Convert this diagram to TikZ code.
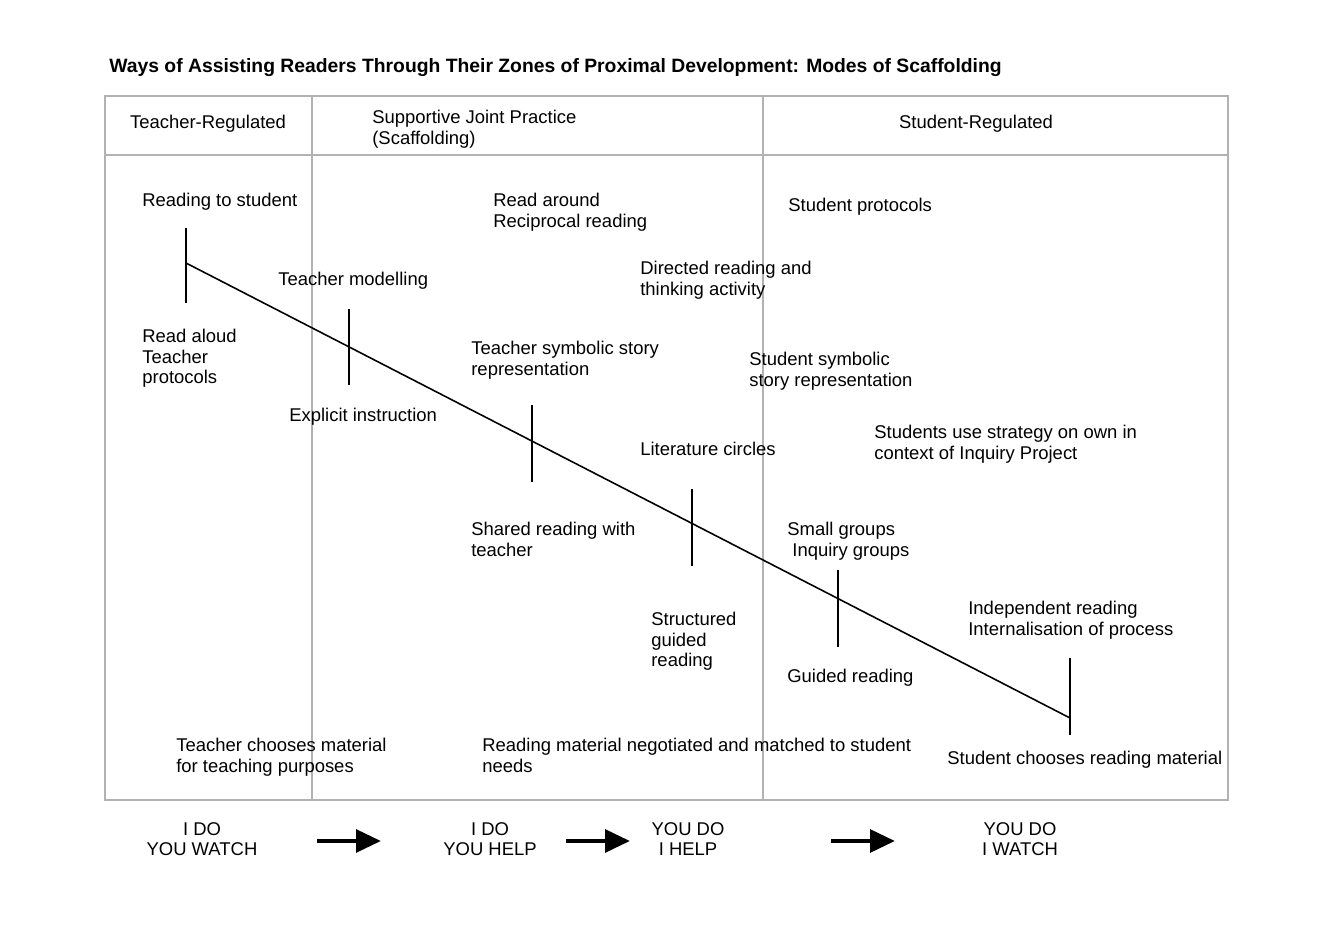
\documentclass[tikz,border=0pt]{standalone}
\usepackage{fontspec}
\setmainfont{Liberation Sans}
\usetikzlibrary{arrows.meta}

\tikzset{
  lbl/.style={anchor=north west, inner sep=0, align=left,
    font=\fontsize{10.5}{11.6}\selectfont},
  ctr/.style={inner sep=0, align=center,
    font=\fontsize{10.5}{11.6}\selectfont},
  frame/.style={draw=black!30, line width=0.6pt},
  tick/.style={line width=0.9pt},
  bigarrow/.style={-{Triangle[length=0.5cm,width=0.45cm]}, line width=0.09cm}
}

\begin{document}
\begin{tikzpicture}[x=0.02cm, y=-0.02cm]
  \useasboundingbox (0,0) rectangle (1323,935);

  \node[anchor=west, inner sep=0, font=\fontsize{11}{13}\selectfont\bfseries]
    (title) at (109,68) {Ways of Assisting Readers Through Their Zones of Proximal Development: Modes of Scaffolding};

  % frame and columns
  \draw[frame] (105,96) rectangle (1228,800);
  \draw[frame] (105,155) -- (1228,155);
  \draw[frame] (312,96) -- (312,800);
  \draw[frame] (763,96) -- (763,800);

  \node[ctr] (h1) at (208,124) {Teacher-Regulated};
  \node[lbl] (h2) at (372,110) {Supportive Joint Practice\\(Scaffolding)};
  \node[ctr] (h3) at (976,124) {Student-Regulated};

  % main line with ticks
  \coordinate (start) at (186,263);
  \coordinate (stop)  at (1070,718);
  \draw[line width=0.9pt] (start) -- (stop);
  \foreach \x/\a/\b in {186/228/303, 349/309/385, 532/405/482,
                        692/489/566, 838/570/647, 1070/658/735}{
    \coordinate (t\x a) at (\x,\a);
    \coordinate (t\x b) at (\x,\b);
    \draw[tick] (t\x a) -- (t\x b);
  }

  % labels
  \node[lbl] (readst)   at (142,193) {Reading to student};
  \node[lbl] (readaloud) at (142,329) {Read aloud\\Teacher\\protocols};
  \node[lbl] (model)    at (278,272) {Teacher modelling};
  \node[lbl] (explicit) at (289,408) {Explicit instruction};
  \node[lbl] (around)   at (493,193) {Read around\\Reciprocal reading};
  \node[lbl] (symb)     at (471,341) {Teacher symbolic story\\representation};
  \node[lbl] (shared)   at (471,522) {Shared reading with\\teacher};
  \node[lbl] (directed) at (640,261) {Directed reading and\\thinking activity};
  \node[lbl] (litcirc)  at (640,442) {Literature circles};
  \node[lbl] (struct)   at (651,612) {Structured\\guided\\reading};
  \node[lbl] (protocols) at (788,198) {Student protocols};
  \node[lbl] (stsymb)   at (749,352) {Student symbolic\\story representation};
  \node[lbl] (strategy) at (874,425) {Students use strategy on own in\\context of Inquiry Project};
  \node[lbl] (small)    at (787,522) {Small groups\\\ Inquiry groups};
  \node[lbl] (guided)   at (787,669) {Guided reading};
  \node[lbl] (indep)    at (968,601) {Independent reading\\Internalisation of process};

  \node[lbl] (tchoose)  at (176,738) {Teacher chooses material\\for teaching purposes};
  \node[lbl] (negot)    at (482,738) {Reading material negotiated and matched to student\\needs};
  \node[lbl] (schoose)  at (947,751) {Student chooses reading material};

  % bottom row
  \node[ctr] (s1) at (202,839) {I DO\\YOU WATCH};
  \node[ctr] (s2) at (490,839) {I DO\\YOU HELP};
  \node[ctr] (s3) at (688,839) {YOU DO\\I HELP};
  \node[ctr] (s4) at (1020,839) {YOU DO\\I WATCH};

  \coordinate (a1s) at (317,841); \coordinate (a1e) at (381,841);
  \coordinate (a2s) at (566,841); \coordinate (a2e) at (630,841);
  \coordinate (a3s) at (831,841); \coordinate (a3e) at (895,841);
  \draw[bigarrow] (a1s) -- (a1e);
  \draw[bigarrow] (a2s) -- (a2e);
  \draw[bigarrow] (a3s) -- (a3e);
\end{tikzpicture}
\end{document}
